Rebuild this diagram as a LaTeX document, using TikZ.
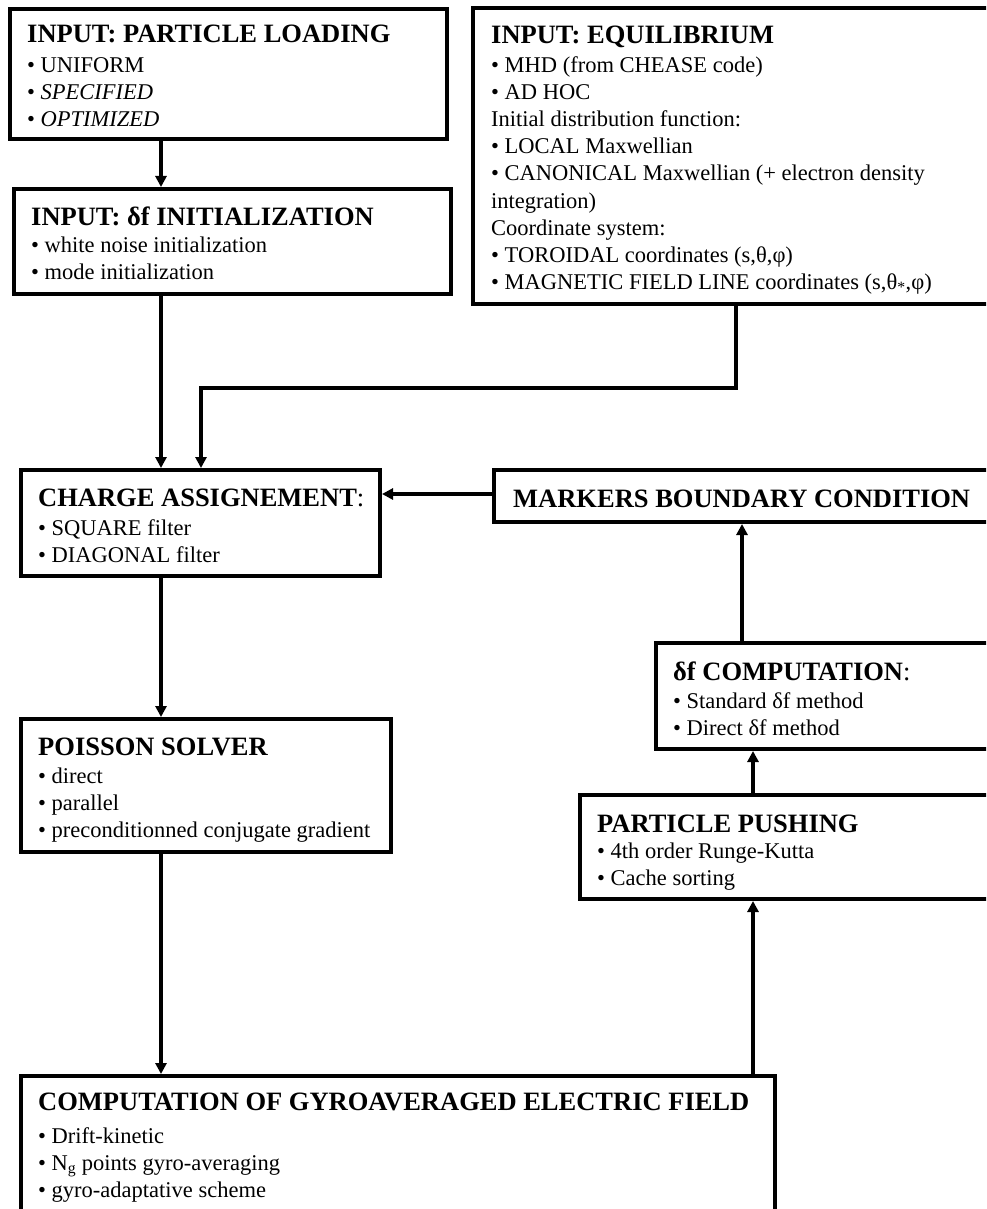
\documentclass[tikz,border=0pt]{standalone}
\usepackage{fontspec}
\setmainfont{Liberation Serif}
\usetikzlibrary{arrows.meta}
\newcommand\boxtitle[1]{{\fontsize{26.5}{30}\selectfont\bfseries #1}}
\begin{document}
\begin{tikzpicture}[x=1pt,y=-1pt,
  box/.style={draw, line width=4pt, anchor=north west, inner sep=0pt, outer sep=0pt},
  txt/.style={anchor=base west, inner sep=0pt, font=\fontsize{22.5}{27.2}\selectfont},
  arr/.style={line width=4.5pt, shorten >=2pt, -{Triangle[length=11pt,width=11pt]}}]
\useasboundingbox (0,0) rectangle (986,1209);
\clip (0,0) rectangle (986,1209);
\fill[white] (0,0) rectangle (986,1209);
% boxes
\node[box, minimum width=437pt, minimum height=129.5pt] (b1) at (10,9.5) {};
\node[box, minimum width=437pt, minimum height=105pt] (b2) at (14,189) {};
\node[box, minimum width=530pt, minimum height=296pt] (eq) at (473,8) {};
\node[box, minimum width=359pt, minimum height=106pt] (ch) at (21,470) {};
\node[box, minimum width=510pt, minimum height=52pt] (mk) at (494,470) {};
\node[box, minimum width=350pt, minimum height=106pt] (df) at (656,643) {};
\node[box, minimum width=370pt, minimum height=133pt] (po) at (21,719) {};
\node[box, minimum width=420pt, minimum height=104pt] (pu) at (580,795) {};
\node[box, minimum width=754pt, minimum height=200pt] (co) at (21,1076) {};
% texts
\node[txt] (t1) at (27,43) {\begin{tabular}[t]{@{}l@{}}\boxtitle{INPUT: PARTICLE LOADING}\\[2pt]
• UNIFORM\\ • \textit{SPECIFIED}\\ • \textit{OPTIMIZED}\end{tabular}};
\node[txt] (t2) at (31,225) {\begin{tabular}[t]{@{}l@{}}\boxtitle{INPUT: δf INITIALIZATION}\\
• white noise initialization\\ • mode initialization\end{tabular}};
\node[txt] (teq) at (491,44) {\begin{tabular}[t]{@{}l@{}}\boxtitle{INPUT: EQUILIBRIUM}\\[1pt]
• MHD (from CHEASE code)\\ • AD HOC\\ Initial distribution function:\\ • LOCAL Maxwellian\\
• CANONICAL Maxwellian (+ electron density\\ integration)\\ Coordinate system:\\
• TOROIDAL coordinates (s,θ,φ)\\ • MAGNETIC FIELD LINE coordinates (s,θ\textsubscript{*},φ)\end{tabular}};
\node[txt] (tch) at (38,506) {\begin{tabular}[t]{@{}l@{}}\boxtitle{CHARGE ASSIGNEMENT}{\fontsize{26.5}{30}\selectfont:}\\[2pt]
• SQUARE filter\\ • DIAGONAL filter\end{tabular}};
\node[txt] (tmk) at (513,507) {\boxtitle{MARKERS BOUNDARY CONDITION}};
\node[txt] (tdf) at (673,680) {\begin{tabular}[t]{@{}l@{}}\boxtitle{δf COMPUTATION}{\fontsize{26.5}{30}\selectfont:}\\[1pt]
• Standard δf method\\ • Direct δf method\end{tabular}};
\node[txt] (tpo) at (38,755) {\begin{tabular}[t]{@{}l@{}}\boxtitle{POISSON SOLVER}\\[1pt]
• direct\\ • parallel\\ • preconditionned conjugate gradient\end{tabular}};
\node[txt] (tpu) at (597,832) {\begin{tabular}[t]{@{}l@{}}\boxtitle{PARTICLE PUSHING}\\[-1pt]
• 4th order Runge-Kutta\\ • Cache sorting\end{tabular}};
\node[txt] (tco) at (38,1110) {\begin{tabular}[t]{@{}l@{}}\boxtitle{COMPUTATION OF GYROAVERAGED ELECTRIC FIELD}\\[6pt]
• Drift-kinetic\\ • N\textsubscript{g} points gyro-averaging\\ • gyro-adaptative scheme\end{tabular}};
% connector coordinates
\coordinate (xA) at (161,0);
\coordinate (xE) at (736,0);
\coordinate (bend) at (201,388);
\coordinate (yM) at (0,494);
\coordinate (xR1) at (742,0);
\coordinate (xR2) at (753,0);
% connectors
\draw[arr] (b1.south -| xA) -- (b2.north -| xA);
\draw[arr] (b2.south -| xA) -- (ch.north -| xA);
\draw[arr] (eq.south -| xE) |- (bend) -- (ch.north -| bend);
\draw[arr] (mk.west |- yM) -- (ch.east |- yM);
\draw[arr] (ch.south -| xA) -- (po.north -| xA);
\draw[arr] (po.south -| xA) -- (co.north -| xA);
\draw[arr] (co.north -| xR2) -- (pu.south -| xR2);
\draw[arr] (pu.north -| xR2) -- (df.south -| xR2);
\draw[arr] (df.north -| xR1) -- (mk.south -| xR1);
\end{tikzpicture}
\end{document}
